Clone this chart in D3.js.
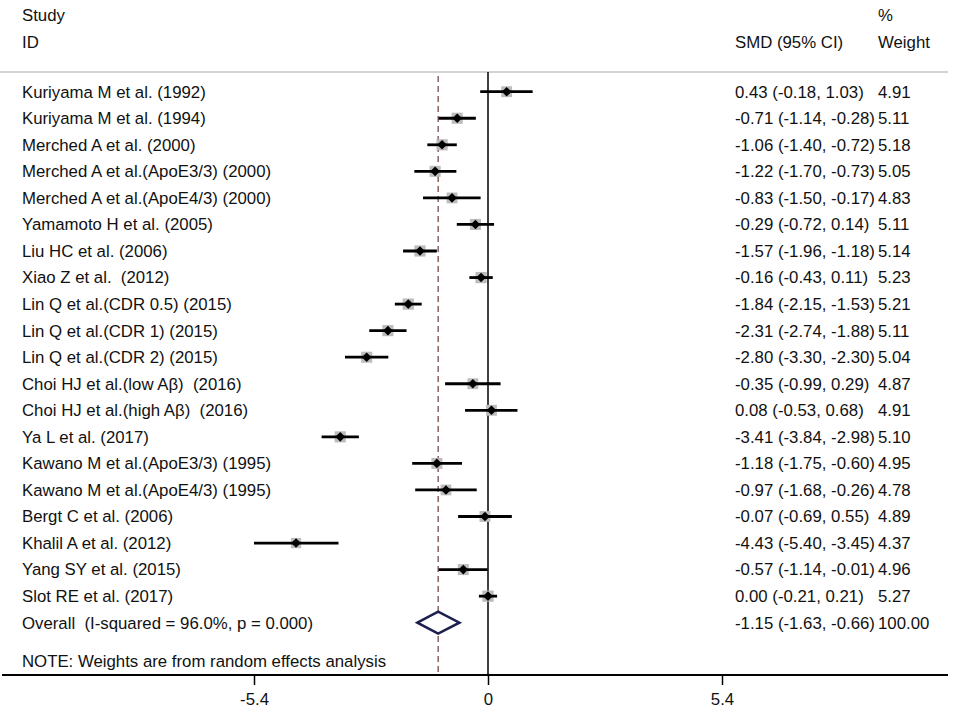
<!DOCTYPE html>
<html>
<head>
<meta charset="utf-8">
<script src="https://cdn.jsdelivr.net/npm/d3@7"></script>
<style>
  body { margin: 0; background: #fff; }
  text { font-family: "Liberation Sans", Arial, sans-serif; font-size: 16.8px; fill: #111; white-space: pre; }
</style>
</head>
<body>
<svg id="chart" width="957" height="714"></svg>
<script>
// study labels, top to bottom
const studies = [
    "Kuriyama M et al. (1992)",
    "Kuriyama M et al. (1994)",
    "Merched A et al. (2000)",
    "Merched A et al.(ApoE3/3) (2000)",
    "Merched A et al.(ApoE4/3) (2000)",
    "Yamamoto H et al. (2005)",
    "Liu HC et al. (2006)",
    "Xiao Z et al.  (2012)",
    "Lin Q et al.(CDR 0.5) (2015)",
    "Lin Q et al.(CDR 1) (2015)",
    "Lin Q et al.(CDR 2) (2015)",
    "Choi HJ et al.(low A\u03b2)  (2016)",
    "Choi HJ et al.(high A\u03b2)  (2016)",
    "Ya L et al. (2017)",
    "Kawano M et al.(ApoE3/3) (1995)",
    "Kawano M et al.(ApoE4/3) (1995)",
    "Bergt C et al. (2006)",
    "Khalil A et al. (2012)",
    "Yang SY et al. (2015)",
    "Slot RE et al. (2017)"
];
const smd     = [0.43, -0.71, -1.06, -1.22, -0.83, -0.29, -1.57, -0.16, -1.84, -2.31, -2.80, -0.35, 0.08, -3.41, -1.18, -0.97, -0.07, -4.43, -0.57, 0.00];
const ciLow   = [-0.18, -1.14, -1.40, -1.70, -1.50, -0.72, -1.96, -0.43, -2.15, -2.74, -3.30, -0.99, -0.53, -3.84, -1.75, -1.68, -0.69, -5.40, -1.14, -0.21];
const ciHigh  = [1.03, -0.28, -0.72, -0.73, -0.17, 0.14, -1.18, 0.11, -1.53, -1.88, -2.30, 0.29, 0.68, -2.98, -0.60, -0.26, 0.55, -3.45, -0.01, 0.21];
const weights = [4.91, 5.11, 5.18, 5.05, 4.83, 5.11, 5.14, 5.23, 5.21, 5.11, 5.04, 4.87, 4.91, 5.10, 4.95, 4.78, 4.89, 4.37, 4.96, 5.27];

// pooled estimate
const overallLabel = "Overall  (I-squared = 96.0%, p = 0.000)";
const overall = { est: -1.15, lo: -1.63, hi: -0.66, weight: 100.00 };
const noteText = "NOTE: Weights are from random effects analysis";
const tickVals = [-5.4, 0, 5.4];

const svg = d3.select("#chart");

const x = d3.scaleLinear().domain([-5.4, 5.4]).range([254, 722]);
const rowY = d3.scaleLinear().domain([0, 1]).range([91.7, 118.25]);   // row index -> y
const boxSide = d3.scaleSqrt().domain([0, 5]).range([0, 11]);

// plain hyphen instead of d3's unicode minus
const fmt = v => d3.format(".2f")(v).replace("\u2212", "-");
const textX = 22, smdX = 735, wX = 878;
const topLine = 72, axisY = 675;
const overallY = rowY(studies.length);

// header
svg.append("text").attr("x", textX).attr("y", 15).attr("dy", "0.35em").text("Study");
svg.append("text").attr("x", textX).attr("y", 42).attr("dy", "0.35em").text("ID");
svg.append("text").attr("x", smdX).attr("y", 42).attr("dy", "0.35em").text("SMD (95% CI)");
svg.append("text").attr("x", wX).attr("y", 15).attr("dy", "0.35em").text("%");
svg.append("text").attr("x", wX).attr("y", 42).attr("dy", "0.35em").text("Weight");

svg.append("line")
    .attr("x1", 0).attr("x2", 948).attr("y1", topLine).attr("y2", topLine)
    .attr("stroke", "#c4c4c4").attr("stroke-width", 1.5);

// reference lines
svg.append("line")
    .attr("x1", x(0)).attr("x2", x(0)).attr("y1", topLine).attr("y2", axisY)
    .attr("stroke", "#000").attr("stroke-width", 1.5);
svg.append("line")
    .attr("x1", x(overall.est)).attr("x2", x(overall.est)).attr("y1", topLine + 4).attr("y2", axisY)
    .attr("stroke", "#7b4a4a").attr("stroke-width", 1.3).attr("stroke-dasharray", "6,4");

// study rows
let rows = svg.selectAll("g.row")
    .data(studies.map((s, i) => ({ name: s, est: smd[i], lo: ciLow[i], hi: ciHigh[i], w: weights[i], i: i })))
    .join("g")
    .attr("class", "row")
    .attr("transform", d => "translate(0," + rowY(d.i) + ")");

rows.append("text").attr("x", textX).attr("dy", "0.35em").text(d => d.name);
rows.append("text").attr("x", smdX).attr("dy", "0.35em")
    .text(d => fmt(d.est) + " (" + fmt(d.lo) + ", " + fmt(d.hi) + ")");
rows.append("text").attr("x", wX).attr("dy", "0.35em").text(d => fmt(d.w));

rows.append("rect")
    .attr("x", d => x(d.est) - boxSide(d.w) / 2)
    .attr("y", d => -boxSide(d.w) / 2)
    .attr("width", d => boxSide(d.w))
    .attr("height", d => boxSide(d.w))
    .attr("fill", "#bcbcbc");
rows.append("line")
    .attr("x1", d => x(d.lo)).attr("x2", d => x(d.hi))
    .attr("stroke", "#000").attr("stroke-width", 2.8);
rows.append("path")
    .attr("d", d => {
        let cx = x(d.est), r = 4.8;
        return "M" + (cx - r) + ",0L" + cx + "," + (-r) + "L" + (cx + r) + ",0L" + cx + "," + r + "Z";
    })
    .attr("fill", "#000");

// overall row
svg.append("text").attr("x", textX).attr("y", overallY).attr("dy", "0.35em").text(overallLabel);
svg.append("text").attr("x", smdX).attr("y", overallY).attr("dy", "0.35em")
    .text(fmt(overall.est) + " (" + fmt(overall.lo) + ", " + fmt(overall.hi) + ")");
svg.append("text").attr("x", wX).attr("y", overallY).attr("dy", "0.35em").text(fmt(overall.weight));
svg.append("path")
    .attr("d", "M" + x(overall.lo) + "," + overallY +
               "L" + x(overall.est) + "," + (overallY - 11) +
               "L" + x(overall.hi) + "," + overallY +
               "L" + x(overall.est) + "," + (overallY + 11) + "Z")
    .attr("fill", "#fff").attr("stroke", "#1c1f4f").attr("stroke-width", 2.5);

svg.append("text").attr("x", textX).attr("y", 661).attr("dy", "0.35em").text(noteText);

// x axis
svg.append("line")
    .attr("x1", 2).attr("x2", 948).attr("y1", axisY).attr("y2", axisY)
    .attr("stroke", "#000").attr("stroke-width", 2);
let axis = svg.append("g")
    .attr("transform", "translate(0," + axisY + ")")
    .call(d3.axisBottom(x).tickValues(tickVals).tickSize(10).tickPadding(8).tickFormat(d => d === 0 ? "0" : String(d)));
axis.select(".domain").remove();
axis.selectAll("line").attr("stroke", "#000").attr("stroke-width", 1.5);
axis.selectAll("text").style("font-size", "16.8px").style("font-family", "Liberation Sans, Arial, sans-serif").attr("fill", "#111");
</script>
</body>
</html>
